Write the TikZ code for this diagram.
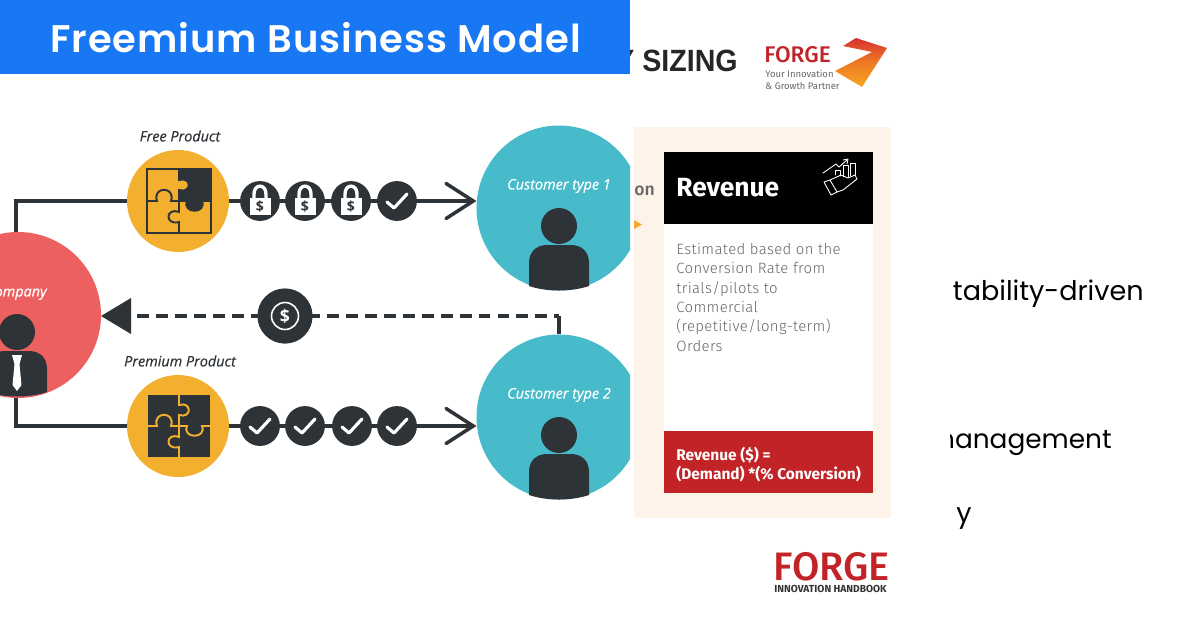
\documentclass[tikz,border=0pt]{standalone}
\usepackage{fontspec}
\usetikzlibrary{arrows.meta,calc,shadings}
\setmainfont{Open Sans}
\newfontfamily\bannerfont[LetterSpace=2.5]{Poppins SemiBold}
\newfontfamily\dinfont[LetterSpace=2.5]{Fira Sans Light}
\newfontfamily\headfont{Fira Sans}
\newfontfamily\logofont{Fira Sans Medium}
\newfontfamily\slidefont{Poppins}
\newfontfamily\sizingfont{Liberation Sans}
\newfontfamily\tagfont[ItalicFeatures={FakeBold=0.4}]{Open Sans}
\definecolor{bannerblue}{HTML}{1877F2}
\definecolor{coral}{HTML}{ED6060}
\definecolor{teal}{HTML}{48BBCB}
\definecolor{gold}{HTML}{F3B02F}
\definecolor{ink}{HTML}{2E3338}
\definecolor{cream}{HTML}{FDF3E8}
\definecolor{forgered}{HTML}{C22327}
\definecolor{greytext}{HTML}{66666A}
\definecolor{arrowtop}{HTML}{D8322F}
\definecolor{arrowmid}{HTML}{EE7A25}
\definecolor{arrowlow}{HTML}{F5A623}
\tikzset{
  ball/.style={circle,inner sep=0pt,minimum size=#1},
  token/.style={ball=40*0.5669pt,fill=ink},
  link/.style={ink,line width=2pt},
  tag/.style={font=\tagfont\fontsize{8.2}{10}\selectfont\itshape,inner sep=0pt},
  sidetext/.style={font=\slidefont\fontsize{15.4}{20}\selectfont,inner sep=0pt,anchor=base east},
  pics/puzzle/.style 2 args={code={
    \fill[#1] (-32,-32) rectangle (32,32);
    \fill[ink] (0,-32) rectangle (32,0);
    \fill[ink] (8,0) .. controls (3,13) and (28,13) .. (23,0) -- cycle;
    \fill[#1] (0,-21) .. controls (13,-25) and (13,-7) .. (0,-11) -- cycle;
    \draw[#2,line width=1.1pt] (-32,-32) rectangle (32,32);
    \draw[#2,line width=1.1pt] (0,-32) -- (0,-21) .. controls (13,-25) and (13,-7) .. (0,-11) -- (0,11)
      .. controls (-14,6) and (-14,25) .. (0,21) -- (0,32);
    \draw[#2,line width=1.1pt] (-32,0) -- (-22,0) .. controls (-27,-15) and (-3,-15) .. (-8,0) -- (8,0)
      .. controls (3,13) and (28,13) .. (23,0) -- (32,0);
  }},
  pics/lock/.style={code={
    \draw[white,line width=1.9pt] (-6,-2) -- (-6,-7) .. controls (-6,-17.5) and (6,-17.5) .. (6,-7) -- (6,-2);
    \fill[white] (-10.5,-3) rectangle (10.5,14);
    \node[ink,inner sep=0pt,font=\fontsize{8}{8}\selectfont\bfseries] at (0,6) {\$};
  }},
  pics/tick/.style={code={
    \draw[white,line width=1.8pt,line cap=round,line join=round] (-10,1) -- (-3,7) -- (10,-7);
  }},
  pics/person/.style={code={
    \fill[ink] (0,0) circle (18);
    \fill[ink] (-30,60) -- (-30,37) .. controls (-30,25) and (-22,19) .. (-12,19) -- (12,19)
      .. controls (22,19) and (30,25) .. (30,37) -- (30,60) .. controls (12,66) and (-12,66) .. (-30,60) -- cycle;
  }}
}
\begin{document}
\begin{tikzpicture}[x=0.02cm,y=-0.02cm,line cap=butt]
  \useasboundingbox (0,0) rectangle (1200,630);
  % left picture, cut at the banner width
  \begin{scope}
    \clip (0,0) rectangle (630,630);
    \node[ball=102*0.5669pt] (free) at (178,201) {};
    \node[ball=102*0.5669pt] (premium) at (178,426) {};
    \node[ball=166*0.5669pt] (company) at (18,315) {};
    \node[ball=165*0.5669pt] (typeA) at (559,208) {};
    \node[ball=165*0.5669pt] (typeB) at (559,417) {};
    \node[token,minimum size=55*0.5669pt] (dollar) at (285,316) {};
    \coordinate (dashend) at (131,316);
    % connectors
    \draw[link,line join=miter] (company.north -| 16,0) -- (16,201) -- (free.center);
    \draw[link,line join=miter] (16,398) -- (16,426) -- (premium.center);
    \draw[link,-{Straight Barb[length=15.5pt,width=20pt,line cap=round]}] (free.center) -- (free -| typeA.west);
    \draw[link,-{Straight Barb[length=15.5pt,width=20pt,line cap=round]}] (premium.center) -- (premium -| typeB.west);
    \draw[link] (typeB.north) -- (typeB.north |- dollar);
    \draw[link,dash pattern=on 6.8pt off 4pt,dash phase=7.4pt] (dashend) -- (typeB.north |- dollar);
    \fill[ink] (101,316) -- (dashend |- 0,298) -- (dashend |- 0,334) -- cycle;
    % circles
    \fill[gold] (free) circle (51);
    \fill[gold] (premium) circle (51);
    \fill[coral] (company) circle (83);
    \fill[teal] (typeA) circle (82.5);
    \fill[teal] (typeB) circle (82.5);
    % puzzles
    \pic at (179,201) {puzzle={gold}{ink}};
    \pic at (179,426) {puzzle={ink}{gold}};
    % tokens
    \foreach \n/\x in {lockA/260,lockB/305,lockC/351} {
      \node[token] (\n) at (\x,201) {};
      \pic at (\n) {lock};
    }
    \node[token] (freecheck) at (397,201) {};
    \pic at (freecheck) {tick};
    \foreach \n/\x in {checkA/260,checkB/305,checkC/352,checkD/397} {
      \node[token] (\n) at (\x,426) {};
      \pic at (\n) {tick};
    }
    \fill[ink] (dollar) circle (27.5);
    \draw[white,line width=0.9pt] (dollar) circle (13.5);
    \node[white,inner sep=0pt,font=\fontsize{10}{10}\selectfont\bfseries] at (dollar) {\$};
    % people
    \pic at (559,226) {person};
    \pic at (559,435) {person};
    \pic at (17,332) {person};
    \fill[white] (12,355) -- (22,355) -- (19.5,364) -- (21.5,385) -- (17,391) -- (12.5,385) -- (14.5,364) -- cycle;
    % labels
    \node[tag,ink] (freelabel) at (180,136) {Free Product};
    \node[tag,ink] (premiumlabel) at (180,361) {Premium Product};
    \node[tag,white] (typeAlabel) at (559,186) {Customer type 1};
    \node[tag,white] (typeBlabel) at (559,395) {Customer type 2};
    \node[tag,white,anchor=east] (companylabel) at (47,293) {Company};
  \end{scope}
  % card
  \fill[cream] (634,127) rectangle (891,518);
  \fill[black] (664,152) rectangle (873,224);
  \fill[white] (664,224) rectangle (873,431);
  \fill[forgered] (664,431) rectangle (873,493);
  \node[anchor=west,inner sep=0pt,white,font=\headfont\fontsize{15}{18}\selectfont\bfseries] (revenue) at (676,188) {Revenue};
  \node[anchor=north west,inner sep=0pt,align=left,greytext,font=\dinfont\fontsize{8.5}{11}\selectfont] (estimate) at (676,243)
    {Estimated based on the\\Conversion Rate from\\trials/pilots to\\Commercial\\(repetitive/long-term)\\Orders};
  \node[anchor=north west,inner sep=0pt,align=left,white,font=\headfont\fontsize{8.8}{10.8}\selectfont\bfseries] (formula) at (676,446.5)
    {Revenue (\$) =\\(Demand) *(\% Conversion)};
  % hand and chart
  \begin{scope}[white,line width=0.5pt,line join=round,line cap=round]
    \draw (824,182) -- (830,180) -- (837,192) -- (831,195) -- cycle;
    \draw (830,180) -- (841,175) -- (848,178) -- (855,175) -- (857,179) -- (843,190) -- (837,192);
    \draw (823,173) -- (836,164) -- (839,167) -- (847,160);
    \draw (843,160) -- (848,159) -- (847,164);
    \draw (835,175) -- (835,170) -- (840,170) -- (840,176);
    \draw (843,177) -- (843,165) -- (848,165) -- (848,177);
    \draw (850,176) -- (850,163) -- (855,163) -- (855,175);
  \end{scope}
  % bits of the slide behind
  \node[anchor=east,inner sep=0pt,xscale=0.93,font=\sizingfont\fontsize{17.5}{20}\selectfont\bfseries,black!85] (marketsizing) at (738,61) {Y SIZING};
  \node[anchor=west,inner sep=0pt,greytext,font=\logofont\fontsize{10}{12}\selectfont] (cutword) at (634,191) {on};
  \fill[gold!90!orange] (634,220) -- (642,224.5) -- (634,229) -- cycle;
  \begin{scope}
    \clip (950,250) rectangle (1200,540);
    \node[sidetext] (drivenline) at (1144,300.5) {tability-driven};
    \node[sidetext,font=\slidefont\fontsize{15}{20}\selectfont] (managementline) at (1112,448) {management};
    \node[sidetext,anchor=base west] (yline) at (956,522) {y};
  \end{scope}
  % logos
  \node[anchor=west,inner sep=0pt,forgered,font=\logofont\fontsize{12.9}{15}\selectfont] (forgetop) at (764,55) {FORGE};
  \node[anchor=north west,inner sep=0pt,align=left,greytext,font=\headfont\fontsize{5.4}{6.4}\selectfont] (partner) at (765,70) {Your Innovation\\\& Growth Partner};
  \shade[top color=arrowtop,bottom color=arrowlow,middle color=arrowmid]
    (856,38) -- (887,48) -- (862,87) -- (835,71) -- (872,52) -- (843,46) -- cycle;
  \node[anchor=west,inner sep=0pt,forgered,font=\logofont\fontsize{22.6}{26}\selectfont] (forgebottom) at (773,566.5) {FORGE};
  \node[anchor=west,inner sep=0pt,black!80,font=\headfont\fontsize{5.8}{7}\selectfont\bfseries] (handbook) at (774,588.5) {INNOVATION HANDBOOK};
  % banner
  \fill[bannerblue] (0,0) rectangle (630,74);
  \node[anchor=west,inner sep=0pt,white,font=\bannerfont\fontsize{21.9}{24}\selectfont] (title) at (50,38) {Freemium Business Model};
\end{tikzpicture}
\end{document}
